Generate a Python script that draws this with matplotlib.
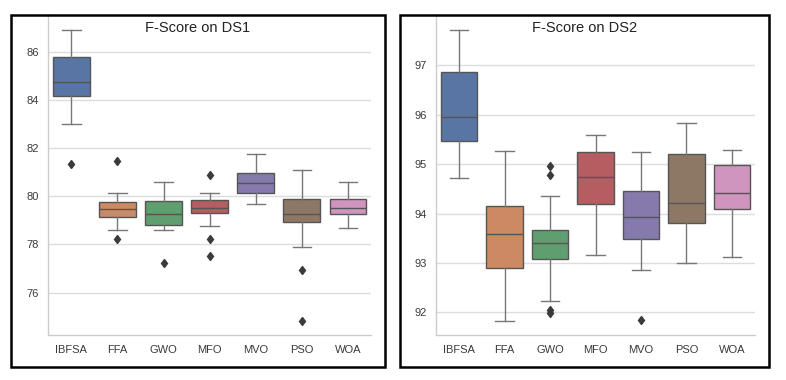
import colorsys
import matplotlib
matplotlib.use("Agg")
import matplotlib.pyplot as plt
from matplotlib.patches import Rectangle
import matplotlib.colors as mcolors

plt.rcParams['font.family'] = ['Liberation Sans', 'DejaVu Sans']

categories = ["IBFSA", "FFA", "GWO", "MFO", "MVO", "PSO", "WOA"]

# DS1 box statistics: whisker low, Q1, median, Q3, whisker high, outliers
ds1_whislo = [83.0, 78.6, 78.6, 78.78, 79.69, 77.9, 78.7]
ds1_q1 = [84.17, 79.15, 78.82, 79.29, 80.12, 78.92, 79.25]
ds1_med = [84.73, 79.47, 79.28, 79.5, 80.55, 79.25, 79.53]
ds1_q3 = [85.78, 79.76, 79.79, 79.84, 80.98, 79.87, 79.9]
ds1_whishi = [86.88, 80.12, 80.6, 80.12, 81.75, 81.08, 80.59]
ds1_fliers = [[81.35], [81.46, 78.24], [77.22], [80.9, 78.24, 77.52], [], [76.93, 74.82], []]

# DS2 box statistics
ds2_whislo = [94.71, 91.83, 92.22, 93.15, 92.86, 92.99, 93.11]
ds2_q1 = [95.475, 92.89, 93.07, 94.2, 93.48, 93.81, 94.09]
ds2_med = [95.95, 93.58, 93.41, 94.73, 93.92, 94.22, 94.41]
ds2_q3 = [96.865, 94.15, 93.66, 95.24, 94.46, 95.21, 94.98]
ds2_whishi = [97.71, 95.27, 94.35, 95.58, 95.24, 95.84, 95.29]
ds2_fliers = [[], [], [94.96, 94.77, 92.04, 91.99], [], [91.84], [], []]

titles = ["F-Score on DS1", "F-Score on DS2"]
ds1_ticks = [76, 78, 80, 82, 84, 86]
ds2_ticks = [92, 93, 94, 95, 96, 97]

deep = ["#4C72B0", "#DD8452", "#55A868", "#C44E52", "#8172B3", "#937860", "#DA8BC3"]


def desat(c, p=0.75):
    r, g, b = mcolors.to_rgb(c)
    h, l, s = colorsys.rgb_to_hls(r, g, b)
    return colorsys.hls_to_rgb(h, l, s * p)


colors = [desat(c) for c in deep]

W, H = 786, 380
fig = plt.figure(figsize=(W / 100, H / 100), dpi=100)


def fx(px):
    return px / W


def fy(py):
    return 1 - py / H


frames = [(11, 15, 385, 367), (400, 15, 769, 367)]
axes_px = [(48.3, 15, 371, 335), (436.3, 15, 754.7, 335)]
ylims = [(74.24, 87.52), (91.54, 98.02)]
yticks = [ds1_ticks, ds2_ticks]
data = [
    (ds1_whislo, ds1_q1, ds1_med, ds1_q3, ds1_whishi, ds1_fliers),
    (ds2_whislo, ds2_q1, ds2_med, ds2_q3, ds2_whishi, ds2_fliers),
]

linec = "#555555"
whisc = "#777777"
for i in range(2):
    l, t, r, b = axes_px[i]
    ax = fig.add_axes([fx(l), fy(b), fx(r) - fx(l), (b - t) / H])
    wl, q1, med, q3, wh, fl = data[i]
    stats = []
    for k in range(len(categories)):
        stats.append(dict(whislo=wl[k], q1=q1[k], med=med[k], q3=q3[k],
                          whishi=wh[k], fliers=fl[k], label=categories[k]))
    bp = ax.bxp(stats, positions=range(len(categories)), widths=0.8,
                patch_artist=True, showfliers=True,
                boxprops=dict(edgecolor=linec, linewidth=1.0),
                medianprops=dict(color=linec, linewidth=1.0),
                whiskerprops=dict(color=whisc, linewidth=1.0),
                capprops=dict(color=whisc, linewidth=1.0),
                flierprops=dict(marker='d', markerfacecolor="#3a3a3a",
                                markeredgecolor="#3a3a3a", markersize=4.5))
    for patch, c in zip(bp['boxes'], colors):
        patch.set_facecolor(c)
    for cap in bp['caps']:
        x = cap.get_xdata()
        m = (x[0] + x[1]) / 2
        cap.set_xdata([m - 0.2, m + 0.2])
    ax.set_xlim(-0.5, len(categories) - 0.5)
    ax.set_ylim(*ylims[i])
    ax.set_yticks(yticks[i])
    ax.set_yticklabels([str(v) for v in yticks[i]])
    ax.set_xticks(range(len(categories)))
    ax.set_xticklabels(categories)
    ax.tick_params(length=0, labelsize=8, colors="#3a3a3a")
    ax.tick_params(axis='y', pad=7)
    ax.tick_params(axis='x', pad=7)
    ax.yaxis.grid(True, color="#dcdcdc", linewidth=1.0)
    ax.set_axisbelow(True)
    for s in ['top', 'right']:
        ax.spines[s].set_visible(False)
    for s in ['left', 'bottom']:
        ax.spines[s].set_color("#cccccc")
        ax.spines[s].set_linewidth(1.0)

    x0, y0, x1, y1 = frames[i]
    fig.patches.append(Rectangle((fx(x0), fy(y1)), fx(x1) - fx(x0), (y1 - y0) / H,
                                 transform=fig.transFigure, fill=False,
                                 edgecolor="black", linewidth=1.8))
    fig.text(fx((x0 + x1) / 2), fy(28), titles[i], ha='center', va='center',
             fontsize=10.5, color="#222222")

fig.savefig("out.png", dpi=100)
